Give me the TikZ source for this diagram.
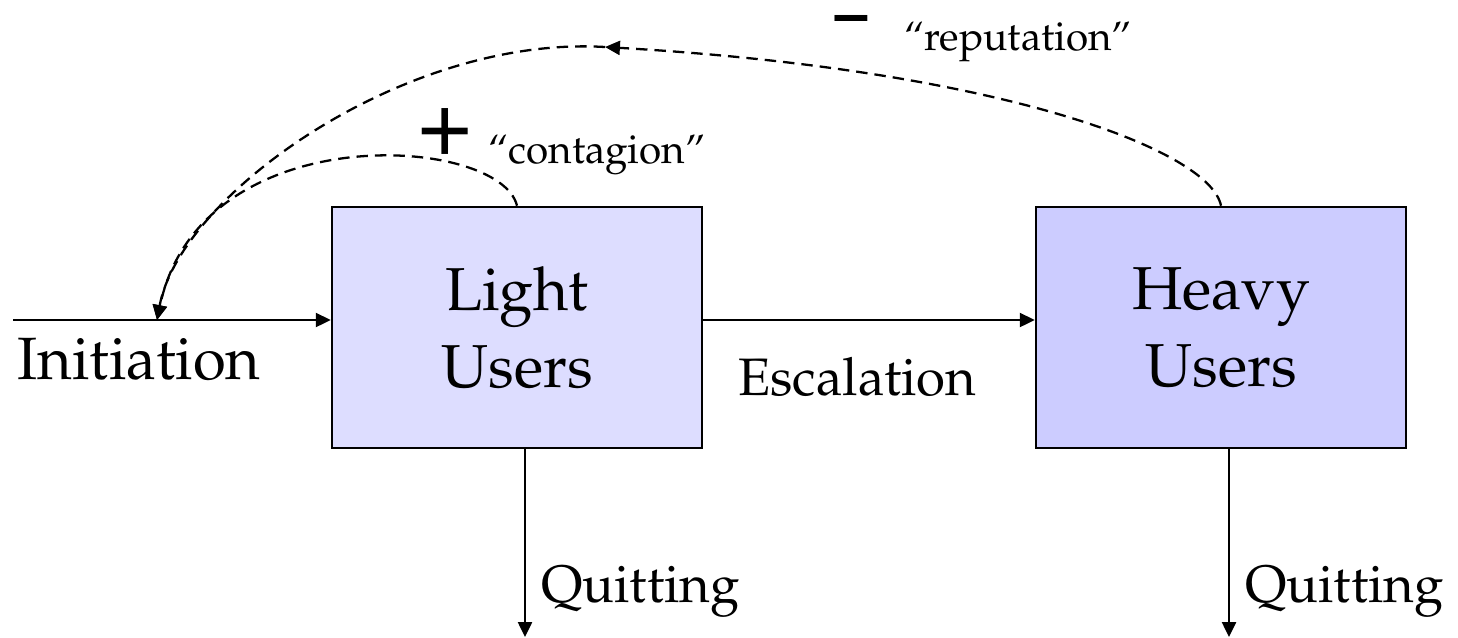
\documentclass[tikz,border=0pt]{standalone}
\usepackage[T1]{fontenc}
\renewcommand{\rmdefault}{ppl}
\usetikzlibrary{arrows.meta}

\definecolor{lightfill}{RGB}{221,221,255}
\definecolor{heavyfill}{RGB}{204,204,255}

\tikzset{
	stock/.style={draw, line width=1.5pt, minimum width=7.4cm, minimum height=4.82cm, align=center, inner sep=0pt, font=\fontsize{34.5}{43.5}\selectfont},
	flow/.style={line width=1.2pt, -{Triangle[length=8.5pt,width=8pt]}},
	feedback/.style={line width=1.3pt, dash pattern=on 6.5pt off 4pt, -{Triangle[length=8.5pt,width=8pt]}},
	lbl/.style={inner sep=0pt, anchor=base west, font=\fontsize{30}{36}\selectfont},
	quote/.style={inner sep=0pt, anchor=base west, font=\fontsize{23}{28}\selectfont},
	sign/.style={inner sep=0pt, font=\fontsize{54}{54}\usefont{T1}{phv}{m}{n}}
}

\begin{document}
\begin{tikzpicture}[x=0.02cm, y=-0.02cm]
	\useasboundingbox (0,0) rectangle (1458,637);
	% the two stocks
	\node[stock, fill=lightfill] (light) at (517,327.5) {Light\\Users};
	\node[stock, fill=heavyfill] (heavy) at (1221,327.5) {Heavy\\Users};
	
	\coordinate (src) at (13,320);
	\coordinate (join) at (157,320);
	\coordinate (rep) at (605,47);
	\coordinate (lq) at (525,637);
	\coordinate (hq) at (1229,637);
	
	% flows
	\draw[flow] (src) -- (src -| light.west);
	\draw[flow] (src -| light.east) -- (src -| heavy.west);
	\draw[flow] (lq |- light.south) -- (lq);
	\draw[flow] (hq |- heavy.south) -- (hq);
	
	% feedback loops
	\draw[feedback] (light.north) .. controls (500,135) and (200,115) .. (join);
	\draw[feedback] (heavy.north) .. controls (1210,150) and (1000,70) .. (rep);
	\draw[feedback] (rep) .. controls (405,35) and (180,195) .. (join);
	
	\node[lbl, font=\fontsize{34}{40}\selectfont] (initiation) at (17,379) {Initiation};
	\node[lbl] (escalation) at (738,395) {Escalation};
	\node[lbl] (lquit) at (541,602) {Quitting};
	\node[lbl] (hquit) at (1245,602) {Quitting};
	
	\node[sign] (plus) at (445,130) {+};
	\node[quote] (contagion) at (488,163) {``contagion''};
	\node[sign, anchor=base, font=\fontsize{33}{33}\usefont{T1}{phv}{b}{n}] (minus) at (852,33) {--};
	\node[quote] (reputation) at (904,50) {``reputation''};
\end{tikzpicture}
\end{document}
